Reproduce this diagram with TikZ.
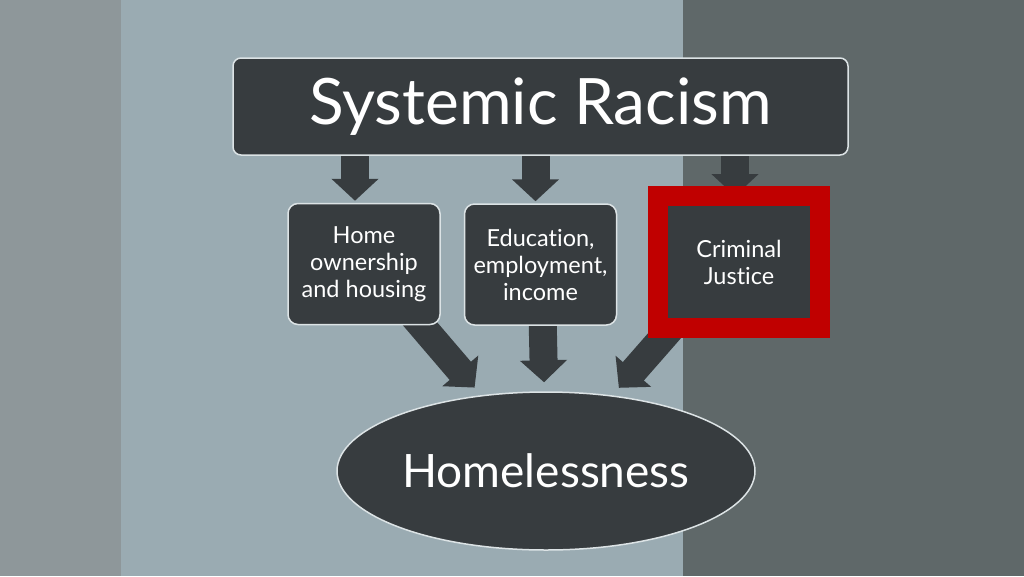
\documentclass[tikz,border=0pt]{standalone}
\usepackage{fontspec}
\setmainfont{Lato}[Ligatures=NoCommon]
\usetikzlibrary{arrows.meta,shapes.geometric}

\definecolor{boxdark}{HTML}{373C3F}
\definecolor{boxedge}{HTML}{DCE3E5}
\definecolor{framered}{HTML}{C00000}
\definecolor{bandleft}{HTML}{8E979A}
\definecolor{bandmid}{HTML}{9AABB2}
\definecolor{bandright}{HTML}{5F6869}

\pgfdeclarelayer{bands}
\pgfdeclarelayer{arrows}
\pgfsetlayers{bands,arrows,main}

\tikzset{
  darkbox/.style={fill=boxdark, draw=boxedge, line width=1.5pt, text=white, align=center, inner sep=0pt},
  causebox/.style={darkbox, rounded corners=10pt, minimum width=152pt, minimum height=121pt, font=\fontsize{23.5}{27}\selectfont},
  blockarrow/.style={draw=boxdark, line width=28pt, -{Triangle[width=46pt,length=22pt,fill=boxdark]}},
}

\begin{document}
\begin{tikzpicture}[x=1pt,y=-1pt]
    \useasboundingbox (0,0) rectangle (1024,576);

    % Fondo
    \begin{pgfonlayer}{bands}
        \fill[bandleft] (0,0) rectangle (121,576);
        \fill[bandmid] (121,0) rectangle (683,576);
        \fill[bandright] (683,0) rectangle (1024,576);
    \end{pgfonlayer}

    % Cajas
    \node[darkbox, rounded corners=8pt, minimum width=615pt, minimum height=97pt,
          font=\fontsize{64}{70}\selectfont] (racism) at (540.5,106.5) {Systemic Racism};
    \node[causebox] (home) at (364,264) {Home\\ownership\\and housing};
    \node[causebox] (educ) at (540.5,264.5) {Education,\\employment,\\income};
    \node[darkbox, draw=framered, line width=20pt, minimum width=162pt, minimum height=132pt,
          font=\fontsize{23.5}{27}\selectfont] (justice) at (739,262) {Criminal\\Justice};
    \node[darkbox, ellipse, minimum width=418pt, minimum height=158pt,
          font=\fontsize{46}{50}\selectfont] (hless) at (546,471) {Homelessness};

    % Flechas
    \begin{pgfonlayer}{arrows}
        \foreach \name/\dx/\dy in {home/-9pt/2pt, educ/-5pt/2pt, justice/-4pt/-10pt} {
            \draw[blockarrow] ([xshift=\dx, yshift=8pt]racism.south -| \name.north)
                -- ([xshift=\dx, yshift=\dy]\name.north);
        }
        \draw[blockarrow, shorten >=10pt] ([xshift=47pt, yshift=12pt]home.south) -- (hless);
        \draw[blockarrow, shorten >=9pt] ([xshift=2pt, yshift=12pt]educ.south) -- (hless);
        \draw[blockarrow, shorten >=10pt] ([xshift=-66pt, yshift=12pt]justice.south) -- (hless);
    \end{pgfonlayer}
\end{tikzpicture}
\end{document}
